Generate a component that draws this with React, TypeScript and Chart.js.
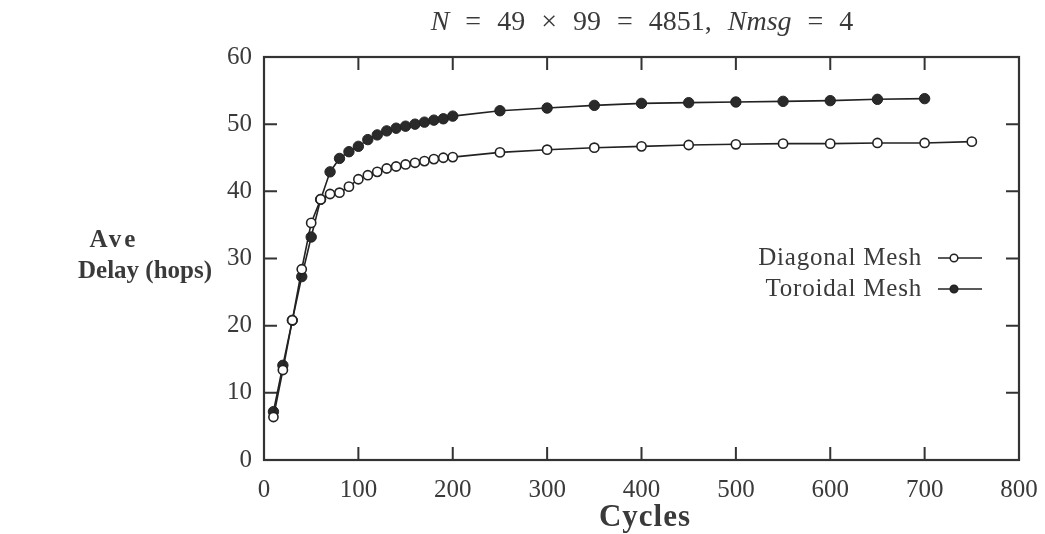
import React, { useEffect, useRef } from "react";
import { Chart, registerables } from "chart.js";

Chart.register(...registerables);

const cyclesDiagonal = [10, 20, 30, 40, 50, 60, 70, 80, 90, 100, 110, 120, 130, 140, 150, 160, 170, 180, 190, 200, 250, 300, 350, 400, 450, 500, 550, 600, 650, 700, 750];
const delayDiagonal = [6.4, 13.4, 20.8, 28.4, 35.3, 38.8, 39.6, 39.8, 40.7, 41.8, 42.4, 42.9, 43.4, 43.7, 44.0, 44.25, 44.5, 44.8, 45.0, 45.1, 45.8, 46.2, 46.5, 46.7, 46.9, 47.0, 47.1, 47.1, 47.2, 47.2, 47.4];

const cyclesToroidal = [10, 20, 30, 40, 50, 60, 70, 80, 90, 100, 110, 120, 130, 140, 150, 160, 170, 180, 190, 200, 250, 300, 350, 400, 450, 500, 550, 600, 650, 700];
const delayToroidal = [7.2, 14.1, 20.8, 27.3, 33.2, 38.8, 42.9, 44.9, 45.9, 46.7, 47.7, 48.4, 49.0, 49.4, 49.7, 50.0, 50.3, 50.6, 50.8, 51.2, 52.0, 52.4, 52.8, 53.1, 53.2, 53.3, 53.4, 53.5, 53.7, 53.8];

const seriesLabels = ["Diagonal Mesh", "Toroidal Mesh"];
const xTicks = [0, 100, 200, 300, 400, 500, 600, 700, 800];
const yTicks = [0, 10, 20, 30, 40, 50, 60];

const titleTokens: [string, boolean][] = [
  ["N", true],
  ["=", false],
  ["49", false],
  ["\u00d7", false],
  ["99", false],
  ["=", false],
  ["4851,", false],
  ["Nmsg", true],
  ["=", false],
  ["4", false],
];

const INK = "#3a3a3a";
const LINE = "#222222";
const SERIF = "'Liberation Serif', 'DejaVu Serif', serif";

const decorPlugin = {
  id: "decor",
  beforeDatasetsDraw(chart: any) {
    const { ctx, chartArea } = chart;
    const xs = chart.scales.x;
    const ys = chart.scales.y;
    const L = 13;
    ctx.save();
    ctx.strokeStyle = "#333";
    ctx.lineWidth = 2;
    ctx.beginPath();
    xTicks.forEach((t) => {
      const px = xs.getPixelForValue(t);
      ctx.moveTo(px, chartArea.bottom);
      ctx.lineTo(px, chartArea.bottom - L);
      ctx.moveTo(px, chartArea.top);
      ctx.lineTo(px, chartArea.top + L);
    });
    yTicks.forEach((t) => {
      const py = ys.getPixelForValue(t);
      ctx.moveTo(chartArea.left, py);
      ctx.lineTo(chartArea.left + L, py);
      ctx.moveTo(chartArea.right, py);
      ctx.lineTo(chartArea.right - L, py);
    });
    ctx.stroke();
    ctx.restore();
  },
  afterDatasetsDraw(chart: any) {
    const { ctx, chartArea } = chart;
    ctx.save();
    // frame
    ctx.strokeStyle = "#333";
    ctx.lineWidth = 2.2;
    ctx.strokeRect(chartArea.left, chartArea.top, chartArea.right - chartArea.left, chartArea.bottom - chartArea.top);

    // title (math style: italic variables, wide spacing)
    const tf = (it: boolean) => `${it ? "italic " : ""}28px ${SERIF}`;
    const gap = 16;
    let total = 0;
    titleTokens.forEach(([s, it], i) => {
      ctx.font = tf(it);
      total += ctx.measureText(s).width + (i > 0 ? gap : 0);
    });
    let x = 642 - total / 2;
    ctx.fillStyle = INK;
    ctx.textBaseline = "middle";
    ctx.textAlign = "left";
    titleTokens.forEach(([s, it]) => {
      ctx.font = tf(it);
      ctx.fillText(s, x, 23);
      x += ctx.measureText(s).width + gap;
    });

    // axis titles
    ctx.textAlign = "center";
    ctx.font = `bold 25px ${SERIF}`;
    (ctx as any).letterSpacing = "3px";
    ctx.fillText("Ave", 114, 241);
    (ctx as any).letterSpacing = "0px";
    ctx.fillText("Delay (hops)", 145, 272);
    (ctx as any).letterSpacing = "1px";
    ctx.font = `bold 31px ${SERIF}`;
    ctx.textBaseline = "alphabetic";
    ctx.fillText("Cycles", 645, 526);
    (ctx as any).letterSpacing = "0px";
    ctx.textBaseline = "middle";

    // legend
    const textRight = chartArea.right - 97;
    const lineStart = chartArea.right - 81;
    const lineEnd = chartArea.right - 37;
    const markX = chartArea.right - 65;
    chart.data.datasets.forEach((ds: any, i: number) => {
      const y = chartArea.top + 201 + i * 31;
      ctx.font = `25px ${SERIF}`;
      (ctx as any).letterSpacing = "0.8px";
      ctx.textAlign = "right";
      ctx.fillStyle = INK;
      ctx.fillText(ds.label, textRight, y);
      (ctx as any).letterSpacing = "0px";
      ctx.strokeStyle = LINE;
      ctx.lineWidth = 1.5;
      ctx.beginPath();
      ctx.moveTo(lineStart, y);
      ctx.lineTo(lineEnd, y);
      ctx.stroke();
      ctx.beginPath();
      ctx.arc(markX, y, 3.8, 0, Math.PI * 2);
      ctx.fillStyle = ds.pointBackgroundColor;
      ctx.fill();
      ctx.lineWidth = 1.5;
      ctx.stroke();
    });
    ctx.restore();
  },
};

export default function App() {
  const ref = useRef<HTMLCanvasElement | null>(null);
  useEffect(() => {
    if (!ref.current) return;
    const chart = new Chart(ref.current, {
      type: "line",
      data: {
        datasets: [
          {
            label: seriesLabels[0],
            data: cyclesDiagonal.map((c, i) => ({ x: c, y: delayDiagonal[i] })),
            borderColor: LINE,
            borderWidth: 1.6,
            pointRadius: 4.6,
            pointBorderWidth: 1.6,
            pointBackgroundColor: "#ffffff",
            pointBorderColor: LINE,
            tension: 0,
          },
          {
            label: seriesLabels[1],
            data: cyclesToroidal.map((c, i) => ({ x: c, y: delayToroidal[i] })),
            borderColor: LINE,
            borderWidth: 1.6,
            pointRadius: 5.2,
            pointBorderWidth: 1,
            pointBackgroundColor: "#2a2a2a",
            pointBorderColor: LINE,
            tension: 0,
          },
        ],
      },
      options: {
        animation: false,
        responsive: true,
        maintainAspectRatio: false,
        layout: { padding: { left: 0, right: 26, top: 57, bottom: 0 } },
        plugins: { legend: { display: false }, title: { display: false }, tooltip: { enabled: false } },
        scales: {
          x: {
            type: "linear",
            min: 0,
            max: 800,
            afterBuildTicks: (s: any) => {
              s.ticks = xTicks.map((v) => ({ value: v }));
            },
            afterFit: (s: any) => {
              s.height = 74;
              s.paddingLeft = 0;
              s.paddingRight = 0;
            },
            grid: { display: false, drawTicks: false },
            border: { display: false },
            ticks: { autoSkip: false, maxRotation: 0, padding: 15, color: INK, font: { family: SERIF, size: 25 } },
          },
          y: {
            type: "linear",
            min: 0,
            max: 60,
            afterBuildTicks: (s: any) => {
              s.ticks = yTicks.map((v) => ({ value: v }));
            },
            afterFit: (s: any) => {
              s.width = 264;
              s.paddingTop = 0;
              s.paddingBottom = 0;
            },
            grid: { display: false, drawTicks: false },
            border: { display: false },
            ticks: { autoSkip: false, padding: 12, color: INK, font: { family: SERIF, size: 25 } },
          },
        },
      },
      plugins: [decorPlugin],
    });
    return () => chart.destroy();
  }, []);
  return (
    <div style={{ position: "fixed", left: 0, top: 0, width: 1045, height: 534, background: "#fff" }}>
      <canvas ref={ref} />
    </div>
  );
}
